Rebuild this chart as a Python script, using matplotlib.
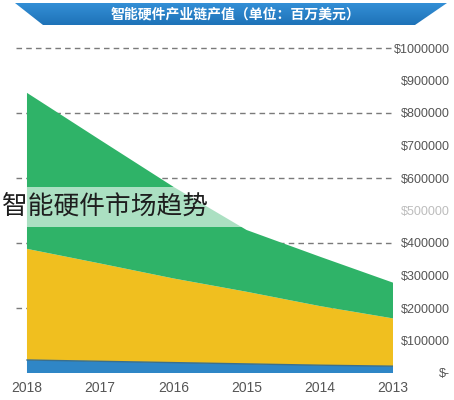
import matplotlib
matplotlib.use('Agg')
import matplotlib.pyplot as plt
from matplotlib.patches import Polygon, Rectangle
import numpy as np

# ---- data ----
years = [2018, 2017, 2016, 2015, 2014, 2013]
blue = [40000, 36000, 32000, 28000, 24000, 21000]
yellow = [342000, 301000, 259000, 222000, 182000, 147000]
green = [480000, 380000, 282000, 190000, 152000, 110000]
ytick_vals = [0, 100000, 200000, 300000, 400000, 500000,
              600000, 700000, 800000, 900000, 1000000]
ytick_labels = ['$-', '$100000', '$200000', '$300000', '$400000', '$500000',
                '$600000', '$700000', '$800000', '$900000', '$1000000']
grid_vals = [200000, 400000, 600000, 800000, 1000000]
title_text = '智能硬件产业链产值（单位：百万美元）'
overlay_text = '智能硬件市场趋势'

W, H = 454, 400
fig = plt.figure(figsize=(W / 100, H / 100), dpi=100)
fig.patch.set_facecolor('white')

CJK = ['Noto Sans CJK SC', 'DejaVu Sans']

# ---- main axes ----
ax = fig.add_axes([16 / W, (H - 379.5) / H, (393 - 16) / W, 338 / H])
ax.set_xlim(2018.15, 2013)
ax.set_ylim(-20000, 1020000)

ax.hlines(grid_vals, 2018.15, 2013, colors='#7a7a7a', linestyles=(0, (4, 3)),
          linewidth=1.0, zorder=1)

ax.stackplot(years, blue, yellow, green,
             colors=['#2f86c6', '#f0bf1f', '#2fb368'], linewidth=0, zorder=2)
ax.plot(years, blue, color='#3b6f8c', linewidth=1.0, zorder=3)

for s in ax.spines.values():
    s.set_visible(False)

ax.set_xticks(years)
ax.set_xticklabels([str(y) for y in years])
ax.tick_params(axis='x', length=0, pad=1, labelsize=10, labelcolor='#555555')
for lab in ax.get_xticklabels():
    lab.set_family(['Liberation Sans', 'DejaVu Sans'])

ax.yaxis.tick_right()
ax.set_yticks(ytick_vals)
ax.set_yticklabels(ytick_labels)
ax.tick_params(axis='y', length=0, pad=41, labelsize=9, labelcolor='#555555')
for lab in ax.get_yticklabels():
    lab.set_horizontalalignment('right')
    lab.set_family(['Liberation Sans', 'DejaVu Sans'])
    if lab.get_text() == '$500000':
        lab.set_color('#bdbdbd')

# ---- decoration overlay in pixel coords ----
ov = fig.add_axes([0, 0, 1, 1], zorder=5)
ov.set_xlim(0, W)
ov.set_ylim(H, 0)
ov.axis('off')
ov.patch.set_alpha(0)

# banner with vertical gradient
banner = Polygon([(15, 3), (447, 3), (415, 25), (43, 25)], closed=True,
                 facecolor='none', edgecolor='none')
ov.add_patch(banner)
grad = np.linspace(0, 1, 50).reshape(-1, 1)
top_c = np.array([0.20, 0.56, 0.84])
bot_c = np.array([0.12, 0.45, 0.72])
img = top_c[None, None, :] * (1 - grad[..., None]) + bot_c[None, None, :] * grad[..., None]
im = ov.imshow(img, extent=(15, 447, 25, 3), aspect='auto', interpolation='bilinear')
im.set_clip_path(banner)
ov.text(235, 14.5, title_text, ha='center', va='center', color='white',
        fontsize=10, fontweight='bold', family=CJK)

# translucent band with caption
ov.add_patch(Rectangle((27, 187), 235, 40, facecolor='white', alpha=0.6,
                       edgecolor='none'))
ov.text(2, 207, overlay_text, ha='left', va='center', color='#1e1e1e',
        fontsize=18.5, fontweight='light', family=CJK)

fig.savefig('out.png', dpi=100)
